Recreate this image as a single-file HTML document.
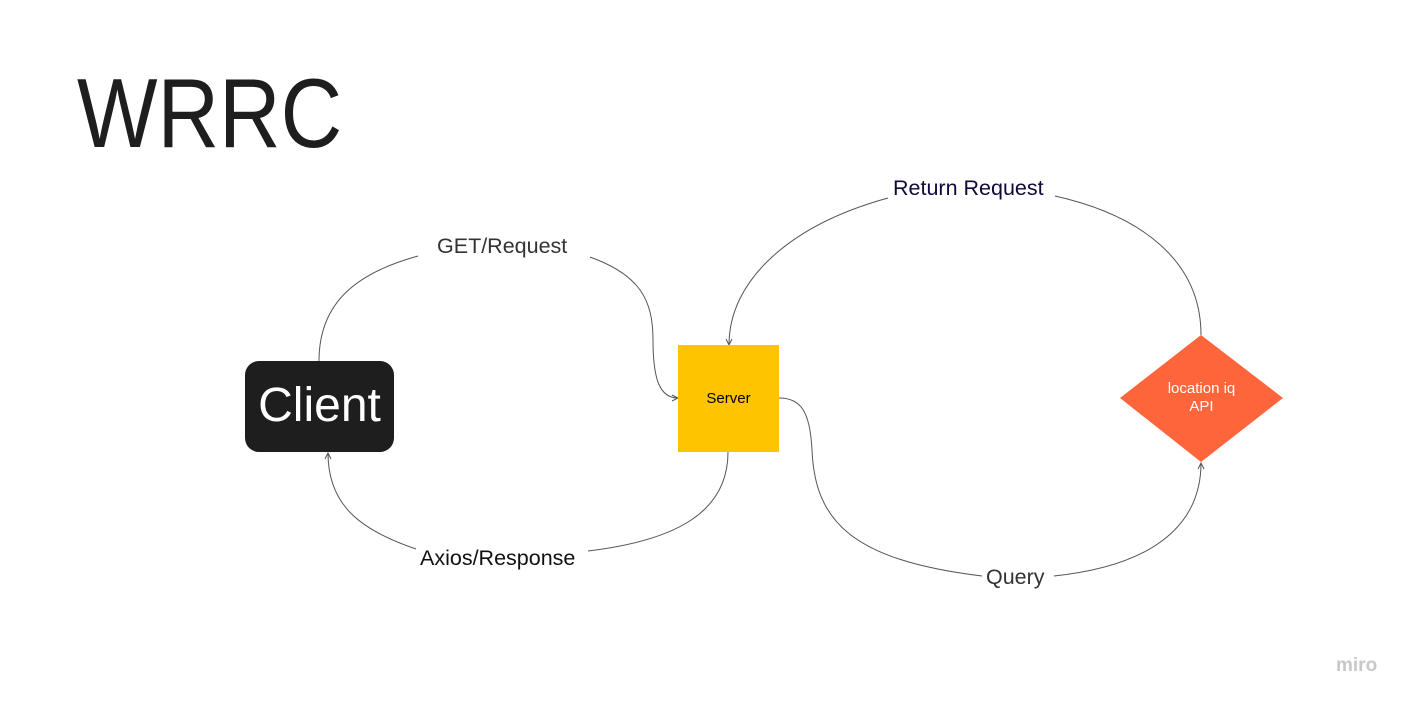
<!DOCTYPE html>
<html><head><meta charset="utf-8"><style>
html,body{margin:0;padding:0;background:#fff;}
body{width:1414px;height:706px;position:relative;overflow:hidden;font-family:"Liberation Sans",sans-serif;}
.t{position:absolute;white-space:nowrap;}
</style></head><body>
<div class="t" style="left:77px;top:58px;font-size:98px;line-height:110px;color:#1e1e1e;transform:scaleX(0.87);transform-origin:left top;">WRRC</div>
<svg width="1414" height="706" style="position:absolute;left:0;top:0">
<defs><marker id="a" markerWidth="8" markerHeight="8" refX="7" refY="4" orient="auto" markerUnits="userSpaceOnUse"><path d="M1,1 L7,4 L1,7" fill="none" stroke="#555" stroke-width="1"/></marker></defs>
<g fill="none" stroke="#555" stroke-width="1">
<path d="M319,361 C319,300 360,272 418,256"/>
<path d="M590,257 C640,275 653,300 653,340 C653,380 660,398 678,398" marker-end="url(#a)"/>
<path d="M1201,335 C1201,260 1140,215 1055,196"/>
<path d="M888,198 C790,225 729,280 729,345" marker-end="url(#a)"/>
<path d="M728,452 C728,510 680,540 588,551"/>
<path d="M416,549 C360,530 328,505 328,453" marker-end="url(#a)"/>
<path d="M779,398 C800,398 810,410 812,450 C815,520 850,560 982,576"/>
<path d="M1054,576 C1160,565 1201,520 1201,463" marker-end="url(#a)"/>
</g>
<polygon points="1201,335 1283,398 1201,462 1120,398" fill="#ff653b"/>
</svg>
<div style="position:absolute;left:245px;top:361px;width:149px;height:91px;background:#1e1e1e;border-radius:14px;color:#fff;font-size:48px;line-height:89px;text-align:center;">Client</div>
<div style="position:absolute;left:678px;top:345px;width:101px;height:107px;background:#fec400;color:#000;font-size:15px;line-height:107px;text-align:center;">Server</div>
<div class="t" style="left:1120px;top:380px;width:163px;text-align:center;color:#fff;font-size:15px;line-height:18px;">location iq<br>API</div>
<div class="t" style="left:437px;top:234px;font-size:21.5px;color:#333;">GET/Request</div>
<div class="t" style="left:893px;top:176px;font-size:21.5px;color:#0e0a3a;">Return Request</div>
<div class="t" style="left:420px;top:546px;font-size:21.5px;color:#111;">Axios/Response</div>
<div class="t" style="left:986px;top:565px;font-size:21.5px;color:#333;">Query</div>
<div class="t" style="left:1336px;top:655px;font-size:19px;font-weight:bold;color:#c8c8cc;">miro</div>
</body></html>
